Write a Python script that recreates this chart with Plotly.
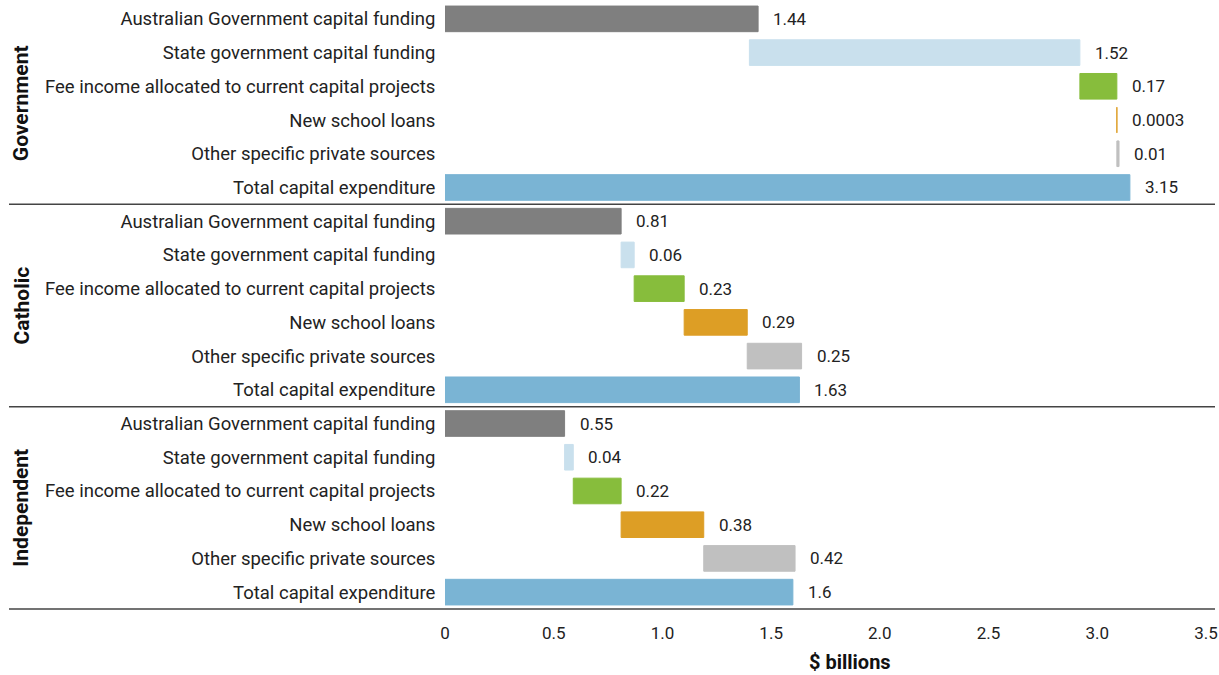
import plotly.graph_objects as go

groups = ["Government", "Catholic", "Independent"]
items = [
    "Australian Government capital funding",
    "State government capital funding",
    "Fee income allocated to current capital projects",
    "New school loans",
    "Other specific private sources",
    "Total capital expenditure",
]
values_gov = [1.44, 1.52, 0.17, 0.0003, 0.01, 3.15]
bases_gov = [0, 1.40, 2.92, 3.09, 3.09, 0]
values_cath = [0.81, 0.06, 0.23, 0.29, 0.25, 1.63]
bases_cath = [0, 0.81, 0.87, 1.10, 1.39, 0]
values_ind = [0.55, 0.04, 0.22, 0.38, 0.42, 1.6]
bases_ind = [0, 0.55, 0.59, 0.81, 1.19, 0]
labels_gov = ["1.44", "1.52", "0.17", "0.0003", "0.01", "3.15"]
labels_cath = ["0.81", "0.06", "0.23", "0.29", "0.25", "1.63"]
labels_ind = ["0.55", "0.04", "0.22", "0.38", "0.42", "1.6"]
colors = ["#7f7f7f", "#c9e0ed", "#87bd3c", "#dd9e25", "#c0c0c0", "#7ab4d4"]
x_ticks = [0, 0.5, 1.0, 1.5, 2.0, 2.5, 3.0, 3.5]
x_tick_text = ["0", "0.5", "1.0", "1.5", "2.0", "2.5", "3.0", "3.5"]

all_values = values_gov + values_cath + values_ind
all_bases = bases_gov + bases_cath + bases_ind
all_labels = labels_gov + labels_cath + labels_ind
n_items = len(items)
rows = list(range(len(all_values)))
row_text = items * len(groups)
row_colors = colors * len(groups)

W, H = 1219, 675
ML, MR, MT, MB = 445, 13, 2, 66

fig = go.Figure()
fig.add_trace(go.Bar(
    y=rows, x=all_values, base=all_bases, orientation="h",
    marker=dict(color=row_colors, line=dict(color=row_colors, width=1)),
    width=0.76, hoverinfo="skip", showlegend=False,
))

annotations = []
for r, (b, v, t) in enumerate(zip(all_bases, all_values, all_labels)):
    annotations.append(dict(
        x=b + v, y=r, xref="x", yref="y", text=t, showarrow=False,
        xanchor="left", yanchor="middle", xshift=13,
        font=dict(family="Roboto", size=17, color="#222222"),
    ))

plot_w = W - ML - MR
plot_h = H - MT - MB
for g, name in enumerate(groups):
    center = (g * n_items + (n_items - 1) / 2)
    ypaper = 1 - (center + 0.5) / len(rows)
    annotations.append(dict(
        x=-(ML - 21) / plot_w, y=ypaper, xref="paper", yref="paper",
        text="<b>" + name + "</b>", textangle=-90, showarrow=False,
        xanchor="center", yanchor="middle",
        font=dict(family="Roboto", size=21, color="#111111"),
    ))

annotations.append(dict(
    x=(850 - ML) / plot_w, y=-(662 - (H - MB)) / plot_h,
    xref="paper", yref="paper", text="<b>$ billions</b>", showarrow=False,
    xanchor="center", yanchor="middle",
    font=dict(family="Roboto", size=20, color="#111111"),
))

shapes = []
x0p = -(ML - 9) / plot_w
x1p = (1215 - ML) / plot_w
for g in range(len(groups)):
    yb = 1 - ((g + 1) * n_items) / len(rows)
    shapes.append(dict(
        type="line", xref="paper", yref="paper", x0=x0p, x1=x1p, y0=yb, y1=yb,
        line=dict(color="#444444", width=1.5),
    ))

fig.update_layout(
    width=W, height=H,
    margin=dict(l=ML, r=MR, t=MT, b=MB, pad=0),
    plot_bgcolor="white", paper_bgcolor="white",
    annotations=annotations, shapes=shapes,
    xaxis=dict(
        range=[0, 3.5], tickvals=x_ticks, ticktext=x_tick_text,
        showgrid=False, zeroline=False, showline=False,
        ticks="outside", ticklen=9, tickcolor="rgba(0,0,0,0)",
        tickfont=dict(family="Roboto", size=17, color="#222222"),
    ),
    yaxis=dict(
        range=[len(rows) - 0.5, -0.5], tickvals=rows, ticktext=row_text,
        showgrid=False, zeroline=False, showline=False,
        ticks="outside", ticklen=5, tickcolor="rgba(0,0,0,0)",
        tickfont=dict(family="Roboto", size=18.5, color="#222222"),
    ),
)

fig.write_html(
    "out.html",
    config={"displayModeBar": False},
    post_script="document.body.style.margin='0px';document.body.style.padding='0px';",
)
